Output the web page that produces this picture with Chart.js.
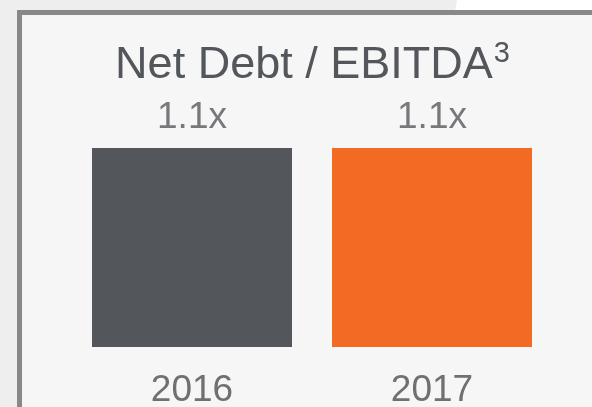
<!DOCTYPE html>
<html>
<head>
<meta charset="utf-8">
<script src="https://cdn.jsdelivr.net/npm/chart.js@4"></script>
<style>
  html, body { margin: 0; padding: 0; }
  body { width: 592px; height: 407px; overflow: hidden; background: #eeeeee; position: relative; }
  .clarao { position: absolute; left: 0; top: 0; width: 592px; height: 12px; background: #ffffff;
            clip-path: polygon(457px 0, 592px 0, 592px 12px, 455px 12px); }
  .caixa { position: absolute; left: 17px; top: 10px; width: 620px; height: 450px;
           border: 5px solid #888888; background: #f6f6f6; box-sizing: border-box; }
  /* o gráfico passa um pouco da janela: os anos ficam perto do fundo */
  .grafico { position: absolute; left: 0; top: 0; width: 592px; height: 436px; }
</style>
</head>
<body>
<div class="clarao"></div>
<div class="caixa"></div>
<div class="grafico"><canvas id="gBarras"></canvas></div>
<script>
// Dados
const anos = ['2016', '2017'];
const valores = [1.1, 1.1];
const rotulos = ['1.1x', '1.1x'];
const cores = ['#53565A', '#F26A23'];

const fonte = '"Liberation Sans", Arial, sans-serif';

// Título e rótulos em cima das barras
const pluginTextos = {
  id: 'textos',
  afterDraw(chart) {
    const ctx = chart.ctx;
    ctx.save();
    const titulo = 'Net Debt / EBITDA';
    ctx.font = '45px ' + fonte;
    const largura = ctx.measureText(titulo).width;
    ctx.font = '29px ' + fonte;
    const largSup = ctx.measureText('3').width;
    const centro = (chart.chartArea.left + chart.chartArea.right) / 2;
    const x0 = centro - (largura + largSup) / 2;
    ctx.fillStyle = '#53565A';
    ctx.textBaseline = 'alphabetic';
    ctx.textAlign = 'left';
    ctx.font = '45px ' + fonte;
    ctx.fillText(titulo, x0, 78);
    ctx.font = '29px ' + fonte;
    ctx.fillText('3', x0 + largura + 1, 62);

    // rótulos de valor
    const meta = chart.getDatasetMeta(0);
    ctx.font = '37px ' + fonte;
    ctx.fillStyle = '#77787B';
    ctx.textAlign = 'center';
    meta.data.forEach((barra, i) => {
      ctx.fillText(rotulos[i], barra.x, 128);
    });
    ctx.restore();
  }
};

const ctxBarras = document.getElementById('gBarras').getContext('2d');
const myChartBarras = new Chart(ctxBarras, {
  type: 'bar',
  data: {
    labels: anos,
    datasets: [{
      data: valores,
      backgroundColor: cores,
      borderWidth: 0,
      categoryPercentage: 1,
      barPercentage: 200 / 240
    }]
  },
  options: {
    responsive: true,
    maintainAspectRatio: false,
    animation: false,
    layout: {
      padding: { left: 72, right: 40, top: 148, bottom: 2 }
    },
    scales: {
      x: {
        grid: { display: false, drawTicks: false },
        border: { display: false },
        ticks: {
          color: '#707070',
          padding: 25,
          font: { family: fonte, size: 37, lineHeight: 1 }
        }
      },
      y: {
        display: false,
        min: 0,
        max: 1.1
      }
    },
    plugins: {
      legend: { display: false },
      tooltip: { enabled: false }
    }
  },
  plugins: [pluginTextos]
});
</script>
</body>
</html>
